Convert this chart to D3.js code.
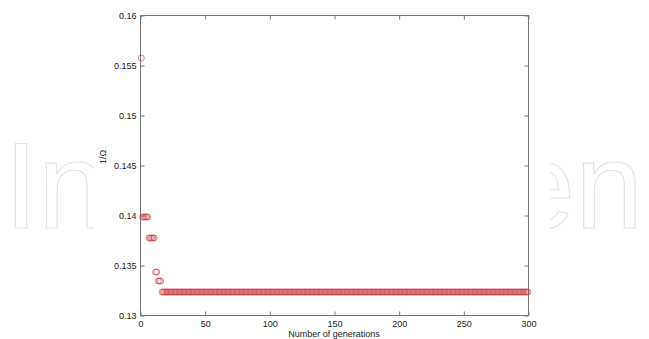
<!DOCTYPE html>
<html>
<head>
<meta charset="utf-8">
<script src="https://cdn.jsdelivr.net/npm/d3@7"></script>
<style>
  body { margin: 0; background: #fff; }
  svg { display: block; }
</style>
</head>
<body>
<script>
// best 1/Omega per generation, stored as runs (value, number of generations)
var runValues = [0.1557, 0.1398, 0.1377, 0.1343, 0.1334, 0.1323];
var runLengths = [1, 5, 5, 2, 3, 284];
var xTicks = [0, 50, 100, 150, 200, 250, 300];
var yTicks = [0.13, 0.135, 0.14, 0.145, 0.15, 0.155, 0.16];

(function(){
    var w = 649, h = 339;
    var left = 140, right = 528, top = 15, bottom = 315;

    // expand runs into one point per generation
    var data = [];
    var gen = 1;
    runValues.forEach(function(v, i){
        for (var k = 0; k < runLengths[i]; k++) {
            data.push({gen: gen, val: v});
            gen++;
        }
    });

    var svg = d3.select("body").append("svg")
        .attr("width", w)
        .attr("height", h);

    // faint watermark, only its two ends show around the figure
    var wm = [{t: "In", x: 4, anchor: "start"}, {t: "en", x: 643, anchor: "end"}];
    svg.append("g").selectAll("text")
        .data(wm)
        .enter()
        .append("text")
        .attr("x", function(d){ return d.x; })
        .attr("y", 228)
        .attr("text-anchor", function(d){ return d.anchor; })
        .style("font-family", "Liberation Sans, Arial, sans-serif")
        .style("font-size", "122px")
        .attr("fill", "none")
        .attr("stroke", "#e4e4e4")
        .attr("stroke-width", 1.2)
        .text(function(d){ return d.t; });

    // white figure area hides the watermark's middle
    svg.append("rect")
        .attr("x", 94)
        .attr("y", 0)
        .attr("width", 456)
        .attr("height", h)
        .attr("fill", "#fff");

    var x = d3.scaleLinear().domain([0, 300]).range([left, right]);
    var y = d3.scaleLinear().domain([0.13, 0.16]).range([bottom, top]);

    var axisColor = "#777";
    var font = "Liberation Sans, Arial, sans-serif";

    // box
    svg.append("rect")
        .attr("x", left + 0.5)
        .attr("y", top + 0.5)
        .attr("width", right - left)
        .attr("height", bottom - top)
        .attr("fill", "none")
        .attr("stroke", axisColor)
        .attr("stroke-width", 1);

    var axB = d3.axisBottom(x).tickValues(xTicks).tickSize(-4).tickPadding(5).tickFormat(d3.format("d"));
    var axT = d3.axisTop(x).tickValues(xTicks).tickSize(-4).tickFormat("");
    var axL = d3.axisLeft(y).tickValues(yTicks).tickSize(-4).tickPadding(4).tickFormat(function(d){ return +d.toFixed(3); });
    var axR = d3.axisRight(y).tickValues(yTicks).tickSize(-4).tickFormat("");

    function style(g){
        g.select(".domain").remove();
        g.selectAll("line").attr("stroke", axisColor);
        g.selectAll("text").attr("fill", "#222").style("font-family", font).style("font-size", "9px");
    }

    svg.append("g").attr("transform", "translate(0.5," + (bottom + 0.5) + ")").call(axB).call(style);
    svg.append("g").attr("transform", "translate(0.5," + (top + 0.5) + ")").call(axT).call(style);
    svg.append("g").attr("transform", "translate(" + (left + 0.5) + ",0.5)").call(axL).call(style);
    svg.append("g").attr("transform", "translate(" + (right + 0.5) + ",0.5)").call(axR).call(style);

    // markers
    svg.append("g").selectAll("circle")
        .data(data)
        .enter()
        .append("circle")
        .attr("cx", function(d){ return x(d.gen); })
        .attr("cy", function(d){ return y(d.val); })
        .attr("r", 3)
        .attr("fill", "none")
        .attr("stroke", "#c8323c")
        .attr("stroke-opacity", 0.75)
        .attr("stroke-width", 0.8);

    // axis labels
    svg.append("text")
        .attr("x", (left + right) / 2)
        .attr("y", 337)
        .attr("text-anchor", "middle")
        .style("font-family", font)
        .style("font-size", "9px")
        .attr("fill", "#222")
        .text("Number of generations");

    svg.append("text")
        .attr("transform", "translate(106,157) rotate(-90)")
        .attr("text-anchor", "middle")
        .style("font-family", font)
        .style("font-size", "9px")
        .attr("fill", "#222")
        .text("1/Ω");
}());
</script>
</body>
</html>
